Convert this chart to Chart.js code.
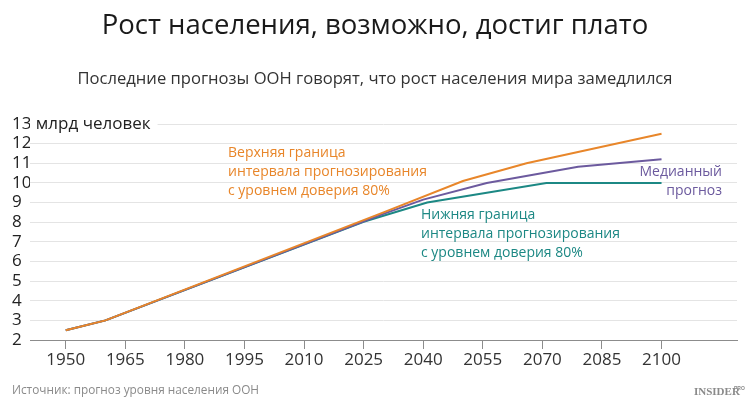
<!DOCTYPE html>
<html>
<head>
<meta charset="utf-8">
<script src="https://cdn.jsdelivr.net/npm/chart.js@4/dist/chart.umd.min.js"></script>
<style>
  html, body { margin: 0; padding: 0; background: #fff; }
  canvas { display: block; }
</style>
</head>
<body>
<canvas id="grafico" width="750" height="409"></canvas>
<script>
// Данные
const tickYears = [1950, 1965, 1980, 1995, 2010, 2025, 2040, 2055, 2070, 2085, 2100];
const yUnit = "млрд человек";

const upperYears = [1950, 1960, 2030, 2050, 2066, 2100];
const upperValues = [2.5, 3.0, 8.5, 10.1, 11.0, 12.5];

const medianYears = [1950, 1960, 2030, 2040, 2056, 2079, 2100];
const medianValues = [2.5, 3.0, 8.42, 9.15, 10.0, 10.82, 11.2];

const lowerYears = [1950, 1960, 2025, 2041, 2071, 2100];
const lowerValues = [2.5, 3.0, 8.02, 9.0, 10.0, 10.0];

const ORANGE = "#e8862a";
const PURPLE = "#6c5a9e";
const TEAL = "#1c8884";
const AXIS_FONT = "17px 'Open Sans'";

function pts(xs, ys) {
  return xs.map((x, i) => ({ x: x, y: ys[i] }));
}

// подписи, заголовок, источник
const textos = {
  id: "textos",
  afterDraw(chart) {
    const c = chart.ctx;
    const ys = chart.scales.y;
    c.save();
    c.textBaseline = "middle";

    // единица измерения рядом с верхней меткой оси
    const yTop = ys.getPixelForValue(ys.max);
    c.font = AXIS_FONT;
    const x0 = ys.left + c.measureText(String(ys.max) + " ").width;
    const w = c.measureText(yUnit).width;
    c.fillStyle = "#fff";
    c.fillRect(ys.right, yTop - 3, x0 + w + 7 - ys.right, 6);
    c.fillStyle = "#222";
    c.textAlign = "left";
    c.fillText(yUnit, x0, yTop);

    c.textAlign = "center";
    c.fillStyle = "#1a1a1a";
    c.font = "27.5px 'Open Sans'";
    c.fillText("Рост населения, возможно, достиг плато", 375, 26);
    c.fillStyle = "#333";
    c.font = "16.6px 'Open Sans'";
    c.fillText("Последние прогнозы ООН говорят, что рост населения мира замедлился", 375, 79);

    c.textAlign = "left";
    c.font = "14px 'Open Sans'";
    c.fillStyle = ORANGE;
    ["Верхняя граница", "интервала прогнозирования", "с уровнем доверия 80%"]
      .forEach((t, i) => c.fillText(t, 228, 153 + i * 19));
    c.fillStyle = TEAL;
    ["Нижняя граница", "интервала прогнозирования", "с уровнем доверия 80%"]
      .forEach((t, i) => c.fillText(t, 421, 215 + i * 19));
    c.textAlign = "right";
    c.fillStyle = PURPLE;
    c.fillText("Медианный", 722, 172);
    c.fillText("прогноз", 722, 191);

    c.textAlign = "left";
    c.fillStyle = "#8a8a8a";
    c.font = "11.8px 'Open Sans'";
    c.fillText("Источник: прогноз уровня населения ООН", 12, 391);
    c.font = "bold 11px 'Liberation Serif'";
    c.fillText("INSIDER", 694, 392);
    c.font = "bold 5px 'Liberation Sans'";
    c.fillText("PRO", 734, 389);
    c.restore();
  }
};

new Chart(document.getElementById("grafico"), {
  type: "line",
  data: {
    datasets: [
      { label: "Верхняя граница", data: pts(upperYears, upperValues), borderColor: ORANGE },
      { label: "Медианный прогноз", data: pts(medianYears, medianValues), borderColor: PURPLE },
      { label: "Нижняя граница", data: pts(lowerYears, lowerValues), borderColor: TEAL }
    ]
  },
  options: {
    responsive: false,
    animation: false,
    devicePixelRatio: 1,
    layout: { padding: { left: 12, right: 13, top: 124, bottom: 0 } },
    elements: {
      line: { borderWidth: 2, tension: 0 },
      point: { radius: 0 }
    },
    plugins: {
      legend: { display: false },
      tooltip: { enabled: false }
    },
    scales: {
      x: {
        type: "linear",
        min: 1941,
        max: 2119,
        afterBuildTicks: (s) => { s.ticks = tickYears.map(v => ({ value: v })); },
        afterFit: (s) => { s.height = 69; },
        grid: { display: true, drawOnChartArea: false, drawTicks: true, tickLength: 9, color: "#8c8c8c" },
        border: { display: true, color: "#8c8c8c", width: 1 },
        ticks: {
          color: "#333",
          font: { family: "'Open Sans'", size: 17 },
          padding: 1,
          maxRotation: 0,
          autoSkip: false,
          callback: (v) => String(v)
        }
      },
      y: {
        min: 2,
        max: 13,
        afterFit: (s) => { s.width = 18; },
        grid: { color: "#e4e4e4", drawTicks: false },
        border: { display: false },
        ticks: {
          stepSize: 1,
          autoSkip: false,
          color: "#222",
          crossAlign: "far",
          font: { family: "'Open Sans'", size: 17 },
          callback: (v) => String(Math.round(Number(v)))
        }
      }
    }
  },
  plugins: [textos]
});
</script>
</body>
</html>
